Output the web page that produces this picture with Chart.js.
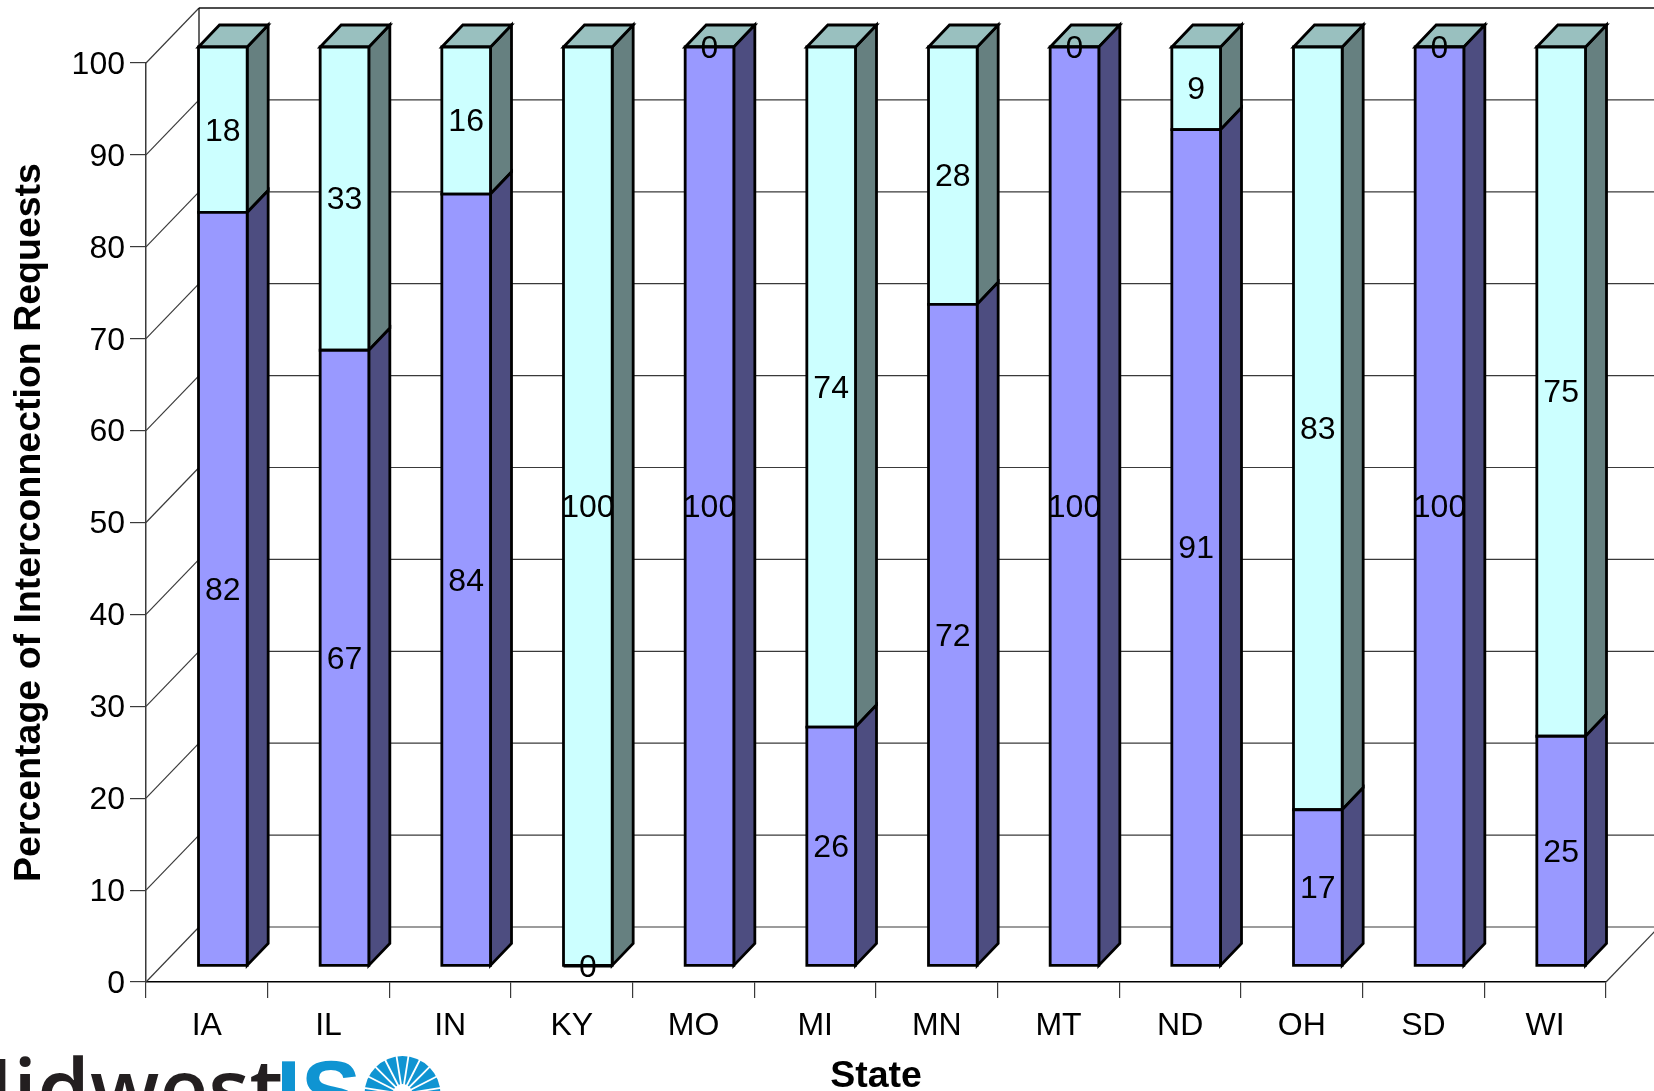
<!DOCTYPE html>
<html>
<head>
<meta charset="utf-8">
<title>Percentage of Interconnection Requests by State</title>
<script src="https://cdn.jsdelivr.net/npm/chart.js@4/dist/chart.umd.min.js"></script>
<style>
  html, body { margin: 0; padding: 0; background: #fff; overflow: hidden; }
  #wrap { position: relative; width: 1654px; height: 1091px; overflow: hidden; }
  canvas { position: absolute; left: 0; top: 0; }
</style>
</head>
<body>
<div id="wrap"><canvas id="chart" width="1654" height="1091"></canvas></div>
<script>
const states = ['IA','IL','IN','KY','MO','MI','MN','MT','ND','OH','SD','WI'];
const lowerSeries = [82,67,84,0,100,26,72,100,91,17,100,25];
const upperSeries = [18,33,16,100,0,74,28,0,9,83,0,75];
const yTicks = [0,10,20,30,40,50,60,70,80,90,100];

const FONT = '"Liberation Sans", Arial, sans-serif';
// Depth of the plot box and of each bar, plus the shift of the bars into the box.
const WALL = { dx: 53, dy: 55 };
const BAR = { dx: 21, dy: 22 };
const SHIFT = { dx: 16, dy: -16 };
const EDGE = 2.8;
const LOWER = { front: '#9999FF', side: '#4D4D80' };
const UPPER = { front: '#CCFFFF', side: '#668080', top: '#99C0BF' };

function poly(ctx, pts, fill) {
  ctx.beginPath();
  pts.forEach((p, i) => i ? ctx.lineTo(p[0], p[1]) : ctx.moveTo(p[0], p[1]));
  ctx.closePath();
  if (fill) { ctx.fillStyle = fill; ctx.fill(); }
  ctx.stroke();
}

function line(ctx, x1, y1, x2, y2) {
  ctx.beginPath();
  ctx.moveTo(x1, y1);
  ctx.lineTo(x2, y2);
  ctx.stroke();
}

// Back wall, left wall and floor of the box.
const wallsPlugin = {
  id: 'walls',
  beforeDatasetsDraw(chart) {
    const { ctx, scales: { x, y } } = chart;
    const left = x.left, right = x.right;
    ctx.save();
    ctx.strokeStyle = '#3a3a3a';
    ctx.lineWidth = 1.2;
    yTicks.forEach(v => {
      const py = y.getPixelForValue(v);
      line(ctx, left, py, left + WALL.dx, py - WALL.dy);
      line(ctx, left + WALL.dx, py - WALL.dy, right + WALL.dx, py - WALL.dy);
    });
    const y0 = y.getPixelForValue(0), y100 = y.getPixelForValue(100);
    line(ctx, right, y0, right + WALL.dx, y0 - WALL.dy);
    ctx.strokeStyle = '#000';
    line(ctx, left + WALL.dx, y100 - WALL.dy, left + WALL.dx, y0 - WALL.dy);
    line(ctx, left + WALL.dx, y100 - WALL.dy, right + WALL.dx, y100 - WALL.dy);
    ctx.restore();
  }
};

// Sides and caps of the bars go under the chart's own bar fronts; the front outlines go over them.
const depthPlugin = {
  id: 'depth',
  beforeDatasetDraw(chart, args) {
    const { ctx } = chart;
    ctx.save();
    ctx.translate(SHIFT.dx, SHIFT.dy);
    const colors = args.index === 0 ? LOWER : UPPER;
    ctx.strokeStyle = '#000';
    ctx.lineWidth = EDGE;
    args.meta.data.forEach(bar => {
      const r = bar.x + bar.width / 2, l = bar.x - bar.width / 2;
      const top = Math.min(bar.y, bar.base), bottom = Math.max(bar.y, bar.base);
      if (bottom - top > 0.5) {
        poly(ctx, [[r, bottom], [r + BAR.dx, bottom - BAR.dy], [r + BAR.dx, top - BAR.dy], [r, top]], colors.side);
      }
      if (args.index === 1) {
        poly(ctx, [[l, top], [l + BAR.dx, top - BAR.dy], [r + BAR.dx, top - BAR.dy], [r, top]], colors.top);
      }
    });
  },
  afterDatasetDraw(chart, args) {
    const { ctx } = chart;
    ctx.strokeStyle = '#000';
    ctx.lineWidth = EDGE;
    args.meta.data.forEach(bar => {
      const r = bar.x + bar.width / 2, l = bar.x - bar.width / 2;
      poly(ctx, [[l, bar.base], [r, bar.base], [r, bar.y], [l, bar.y]]);
    });
    ctx.restore();
  }
};

// Value labels centred on each bar segment.
const valueLabelPlugin = {
  id: 'valueLabels',
  afterDatasetsDraw(chart) {
    const { ctx } = chart;
    ctx.save();
    ctx.translate(SHIFT.dx, SHIFT.dy);
    ctx.font = '32px ' + FONT;
    ctx.fillStyle = '#000';
    ctx.textAlign = 'center';
    ctx.textBaseline = 'middle';
    chart.data.datasets.forEach((ds, i) => {
      chart.getDatasetMeta(i).data.forEach((bar, j) => {
        ctx.fillText(String(ds.data[j]), bar.x, (bar.y + bar.base) / 2 + 2);
      });
    });
    ctx.restore();
  }
};

// Company mark at the lower left, running off the page edges.
const logoPlugin = {
  id: 'logo',
  afterDraw(chart) {
    const { ctx } = chart;
    ctx.save();
    ctx.filter = 'blur(0.7px)';
    ctx.textBaseline = 'alphabetic';
    ctx.textAlign = 'left';
    ctx.font = '600 85px "Open Sans", ' + FONT;
    ctx.fillStyle = '#231F20';
    ctx.fillText('Midwest', -65, 1120);
    ctx.font = 'bold 90px ' + FONT;
    ctx.fillStyle = '#0F94D2';
    ctx.fillText('IS', 276, 1124);
    const cx = 402.5, cy = 1094, rad = 38;
    ctx.beginPath();
    ctx.arc(cx, cy, rad, 0, Math.PI * 2);
    ctx.fill();
    ctx.strokeStyle = '#fff';
    ctx.lineWidth = 1.8;
    for (let a = 0; a < 20; a++) {
      const t = (a + 0.5) / 20 * Math.PI * 2;
      line(ctx, cx, cy, cx + (rad + 1) * Math.cos(t), cy + (rad + 1) * Math.sin(t));
    }
    ctx.fillStyle = '#fff';
    ctx.beginPath();
    ctx.arc(cx, cy, 10, 0, Math.PI * 2);
    ctx.fill();
    ctx.restore();
  }
};

new Chart(document.getElementById('chart'), {
  type: 'bar',
  data: {
    labels: states,
    datasets: [
      { label: 'Lower', data: lowerSeries, backgroundColor: LOWER.front, clip: false },
      { label: 'Upper', data: upperSeries, backgroundColor: UPPER.front, clip: false }
    ]
  },
  options: {
    responsive: false,
    animation: false,
    devicePixelRatio: 1,
    layout: { padding: { top: 63, right: 48, left: 0, bottom: 0 } },
    categoryPercentage: 0.4,
    barPercentage: 1,
    datasets: { bar: { borderWidth: 0 } },
    plugins: { legend: { display: false }, tooltip: { enabled: false } },
    scales: {
      x: {
        stacked: true,
        afterFit(s) { s.height = 109; },
        border: { color: '#000', width: 1.5 },
        grid: { drawOnChartArea: false, tickLength: 16, color: '#3a3a3a', lineWidth: 1.2 },
        ticks: { color: '#000', font: { family: FONT, size: 32 }, padding: 9, maxRotation: 0, autoSkip: false },
        title: { display: true, text: 'State', color: '#000', font: { family: FONT, size: 37.5, weight: 'bold' }, padding: { top: 0, bottom: -8 } }
      },
      y: {
        stacked: true,
        min: 0,
        max: 100,
        afterFit(s) { s.width = 146; },
        border: { color: '#3a3a3a', width: 1.5 },
        grid: { drawOnChartArea: false, tickLength: 16, color: '#3a3a3a', lineWidth: 1.2 },
        ticks: { color: '#000', stepSize: 10, font: { family: FONT, size: 32 }, padding: 5, labelOffset: 2 },
        title: { display: true, text: 'Percentage of Interconnection Requests', color: '#000', font: { family: FONT, size: 37.5, weight: 'bold' }, padding: { top: 7, bottom: 0 } }
      }
    }
  },
  plugins: [wallsPlugin, depthPlugin, valueLabelPlugin, logoPlugin]
});
</script>
</body>
</html>
